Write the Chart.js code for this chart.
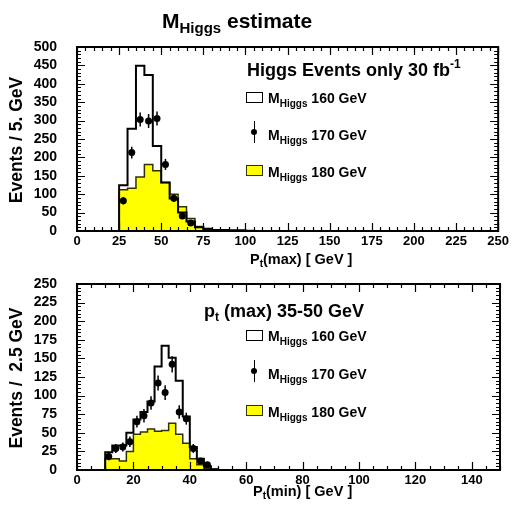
<!DOCTYPE html>
<html>
<head>
<meta charset="utf-8">
<script src="https://cdn.jsdelivr.net/npm/chart.js@4.4.0/dist/chart.umd.min.js"></script>
<style>
  body { margin: 0; background: #fff; }
  #wrap { position: relative; width: 512px; height: 509px; overflow: hidden;
          font-family: "Liberation Sans", Arial, Helvetica, sans-serif; font-weight: bold; color: #000; }
  canvas { position: absolute; left: 0; top: 0; }
  .t { position: absolute; white-space: nowrap; line-height: 1; }
  .sub { position: relative; }
  .sup { position: relative; }
  .box { position: absolute; box-sizing: border-box; border: 1.5px solid #000; background: #fff; }
  .box.yel { background: #ffff00; border-color: #333300; }
  .dot { position: absolute; width: 6px; height: 6px; border-radius: 50%; background: #000; }
  .bar { position: absolute; width: 1.5px; background: #000; }
  .ytitle { position: absolute; white-space: nowrap; line-height: 1; font-size: 17.5px;
            transform: translate(-50%, -50%) rotate(-90deg); }
</style>
</head>
<body>
<div id="wrap">
  <canvas id="hiChart" width="512" height="509"></canvas>
  <canvas id="loChart" width="512" height="509"></canvas>

  <div class="t" style="left:162px; top:10px; font-size:21px;">M<span class="sub" style="font-size:15px; top:5px;">Higgs</span> estimate</div>

  <!-- upper pad: legend -->
  <div class="t" style="left:247px; top:61px; font-size:18px;">Higgs Events only 30 fb<span class="sup" style="font-size:12px; top:-8px;">-1</span></div>
  <div class="box" style="left:246px; top:92px; width:17px; height:11px;"></div>
  <div class="t" style="left:268px; top:91px; font-size:14px;">M<span class="sub" style="font-size:10px; top:4px;">Higgs</span> 160 GeV</div>
  <div class="bar" style="left:253.5px; top:121px; height:22px;"></div>
  <div class="dot" style="left:251px; top:129px;"></div>
  <div class="t" style="left:268px; top:128px; font-size:14px;">M<span class="sub" style="font-size:10px; top:4px;">Higgs</span> 170 GeV</div>
  <div class="box yel" style="left:246px; top:165px; width:17px; height:11px;"></div>
  <div class="t" style="left:268px; top:165px; font-size:14px;">M<span class="sub" style="font-size:10px; top:4px;">Higgs</span> 180 GeV</div>

  <div class="t" style="left:250px; top:252px; font-size:14.5px;">P<span class="sub" style="font-size:10px; top:3px;">t</span>(max) [ GeV ]</div>
  <div class="ytitle" style="left:17px; top:140px;">Events / 5. GeV</div>

  <!-- lower pad: legend -->
  <div class="t" style="left:204px; top:302px; font-size:18px;">p<span class="sub" style="font-size:12px; top:4px;">t</span> (max) 35-50 GeV</div>
  <div class="box" style="left:246px; top:330px; width:17px; height:11px;"></div>
  <div class="t" style="left:268px; top:329px; font-size:14px;">M<span class="sub" style="font-size:10px; top:4px;">Higgs</span> 160 GeV</div>
  <div class="bar" style="left:253.5px; top:360px; height:22px;"></div>
  <div class="dot" style="left:251px; top:368px;"></div>
  <div class="t" style="left:268px; top:367px; font-size:14px;">M<span class="sub" style="font-size:10px; top:4px;">Higgs</span> 170 GeV</div>
  <div class="box yel" style="left:246px; top:405px; width:17px; height:11px;"></div>
  <div class="t" style="left:268px; top:405px; font-size:14px;">M<span class="sub" style="font-size:10px; top:4px;">Higgs</span> 180 GeV</div>

  <div class="t" style="left:253px; top:484px; font-size:14.5px;">P<span class="sub" style="font-size:10px; top:3px;">t</span>(min) [ GeV ]</div>
  <div class="ytitle" style="left:17px; top:378px;">Events /&nbsp; 2.5 GeV</div>
</div>

<script>
// ---- P_t(max), 5 GeV bins ----
var hiBinLow = [25, 30, 35, 40, 45, 50, 55, 60, 65, 70, 75, 80, 85, 90, 95, 100];
var hiBinWidth = 5;
var hiM160 = [124, 278, 449, 424, 231, 132, 88, 50, 26, 10, 6, 3, 3, 2, 2, 1];
var hiM180 = [112, 116, 147, 181, 164, 132, 100, 66, 34, 12, 5, 3, 2, 1, 1, 1];
var hiM170x = [27.5, 32.5, 37.5, 42.5, 47.5, 52.5, 57.5, 62.5, 67.5];
var hiM170 = [82, 213, 303, 299, 306, 181, 89, 41, 22];
var hiM170err = [10, 16, 19, 19, 19, 15, 10, 7, 5];

// ---- P_t(min) for p_t(max) 35-50 GeV, 2.5 GeV bins ----
var loBinLow = [10, 12.5, 15, 17.5, 20, 22.5, 25, 27.5, 30, 32.5, 35, 37.5, 40, 42.5, 45, 47.5];
var loBinWidth = 2.5;
var loM160 = [24, 33, 33, 50, 68, 78, 92, 139, 167, 151, 120, 72, 31, 15, 5, 1];
var loM180 = [15, 15, 12, 25, 48, 51, 55, 52, 53, 63, 48, 36, 15, 7, 2, 1];
var loM170x = [11.25, 13.75, 16.25, 18.75, 21.25, 23.75, 26.25, 28.75, 31.25, 33.75, 36.25, 38.75, 41.25, 43.75, 46.25];
var loM170 = [18, 29, 31, 38, 65, 73, 90, 117, 104, 142, 78, 69, 29, 12, 7];
var loM170err = [5, 6, 6, 7, 8, 9, 9, 10, 10, 11, 9, 8, 6, 4, 3];

Chart.defaults.font.family = '"Liberation Sans", Arial, Helvetica, sans-serif';
Chart.defaults.font.weight = 'bold';
Chart.defaults.color = '#000';

// step outline: start on the axis, one point per bin edge, back down at the end
function histPoints(lows, width, vals) {
  var pts = [{x: lows[0], y: 0}];
  for (var i = 0; i < lows.length; i++) pts.push({x: lows[i], y: vals[i]});
  pts.push({x: lows[lows.length - 1] + width, y: 0});
  return pts;
}

function points(xs, ys) {
  return xs.map(function (x, i) { return {x: x, y: ys[i]}; });
}

// frame with ticks pointing inwards on all four sides
var frameTicks = {
  id: 'frameTicks',
  afterDatasetsDraw: function (chart, args, opts) {
    var ctx = chart.ctx, a = chart.chartArea, sx = chart.scales.x, sy = chart.scales.y;
    ctx.save();
    ctx.strokeStyle = '#000';
    ctx.lineWidth = 1.2;
    ctx.beginPath();
    var n = Math.round((sx.max - sx.min) / opts.xMinor);
    for (var i = 0; i <= n; i++) {
      var v = sx.min + i * opts.xMinor;
      var px = Math.round(sx.getPixelForValue(v)) + 0.5;
      var len = (i % opts.xSub === 0) ? 8 : 4;
      ctx.moveTo(px, a.bottom); ctx.lineTo(px, a.bottom - len);
      ctx.moveTo(px, a.top); ctx.lineTo(px, a.top + len);
    }
    n = Math.round((sy.max - sy.min) / opts.yMinor);
    for (i = 0; i <= n; i++) {
      v = sy.min + i * opts.yMinor;
      var py = Math.round(sy.getPixelForValue(v)) + 0.5;
      len = (i % opts.ySub === 0) ? 8 : 4;
      ctx.moveTo(a.left, py); ctx.lineTo(a.left + len, py);
      ctx.moveTo(a.right, py); ctx.lineTo(a.right - len, py);
    }
    ctx.stroke();
    ctx.lineWidth = 2;
    ctx.strokeRect(a.left, a.top, a.right - a.left, a.bottom - a.top);
    ctx.restore();
  }
};

// vertical error bars for datasets carrying an "errors" array
var errorBars = {
  id: 'errorBars',
  afterDatasetsDraw: function (chart) {
    var ctx = chart.ctx, sx = chart.scales.x, sy = chart.scales.y;
    ctx.save();
    ctx.strokeStyle = '#000';
    ctx.lineWidth = 1.5;
    chart.data.datasets.forEach(function (ds) {
      if (!ds.errors) return;
      ds.data.forEach(function (p, i) {
        var x = sx.getPixelForValue(p.x);
        ctx.beginPath();
        ctx.moveTo(x, sy.getPixelForValue(p.y - ds.errors[i]));
        ctx.lineTo(x, sy.getPixelForValue(p.y + ds.errors[i]));
        ctx.stroke();
      });
    });
    ctx.restore();
  }
};

function makePad(canvasId, cfg) {
  return new Chart(document.getElementById(canvasId), {
    type: 'line',
    data: {
      datasets: [
        {
          data: points(cfg.dotX, cfg.dotY), errors: cfg.dotErr,
          showLine: false, pointRadius: 3.5, pointBackgroundColor: '#000', pointBorderWidth: 0,
          order: 0
        },
        {
          data: histPoints(cfg.lows, cfg.width, cfg.m160), stepped: true,
          borderColor: '#000', borderWidth: 2, pointRadius: 0, fill: false, order: 1
        },
        {
          data: histPoints(cfg.lows, cfg.width, cfg.m180), stepped: true,
          borderColor: '#333300', borderWidth: 1.5, backgroundColor: '#ffff00',
          pointRadius: 0, fill: 'origin', order: 2
        }
      ]
    },
    options: {
      responsive: false,
      animation: false,
      events: [],
      layout: { padding: cfg.padding },
      plugins: {
        legend: { display: false },
        tooltip: { enabled: false },
        frameTicks: cfg.ticks
      },
      scales: {
        x: {
          type: 'linear', min: cfg.xMax[0], max: cfg.xMax[1],
          grid: { display: false, drawTicks: false }, border: { display: false },
          ticks: { stepSize: cfg.xStep, padding: 3, maxRotation: 0, autoSkip: false,
                   includeBounds: false, font: { size: 13 } },
          afterFit: function (s) { s.height = 20; }
        },
        y: {
          type: 'linear', min: cfg.yMax[0], max: cfg.yMax[1],
          grid: { display: false, drawTicks: false }, border: { display: false },
          ticks: { stepSize: cfg.yStep, padding: 20, autoSkip: false, font: { size: 14 } },
          afterFit: function (s) { s.width = 77; }
        }
      }
    },
    plugins: [frameTicks, errorBars]
  });
}

makePad('hiChart', {
  lows: hiBinLow, width: hiBinWidth, m160: hiM160, m180: hiM180,
  dotX: hiM170x, dotY: hiM170, dotErr: hiM170err,
  xMax: [0, 250], xStep: 25, yMax: [0, 500], yStep: 50,
  ticks: { xMinor: 5, xSub: 5, yMinor: 10, ySub: 5 },
  padding: { left: 0, top: 47, right: 13, bottom: 258 }
});

makePad('loChart', {
  lows: loBinLow, width: loBinWidth, m160: loM160, m180: loM180,
  dotX: loM170x, dotY: loM170, dotErr: loM170err,
  xMax: [0, 150], xStep: 20, yMax: [0, 250], yStep: 25,
  ticks: { xMinor: 5, xSub: 4, yMinor: 5, ySub: 5 },
  padding: { left: 0, top: 284, right: 12, bottom: 19 }
});
</script>
</body>
</html>
